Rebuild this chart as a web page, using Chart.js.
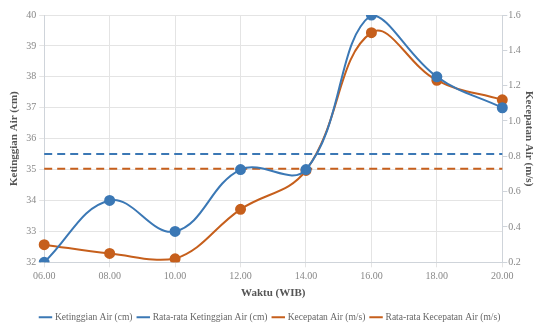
<!DOCTYPE html>
<html lang="id">
<head>
  <meta charset="UTF-8">
  <title>Ketinggian dan Kecepatan Air</title>
  <script src="https://cdn.jsdelivr.net/npm/chart.js"></script>
  <style>
    html, body { margin: 0; padding: 0; background: #fff; }
    #wrap { width: 535px; height: 324px; position: relative; }
  </style>
</head>
<body>
  <div id="wrap"><canvas id="chart"></canvas></div>

  <script>
    // Jam pengukuran
    var waktu = ['06.00', '08.00', '10.00', '12.00', '14.00', '16.00', '18.00', '20.00'];
    // Ketinggian air (cm), sumbu kiri
    var ketinggian = [32, 34, 33, 35, 35, 40, 38, 37];
    // Kecepatan air (m/s), sumbu kanan
    var kecepatan = [0.30, 0.25, 0.22, 0.50, 0.72, 1.50, 1.23, 1.12];
    // Nilai rata-rata masing-masing
    var rataKetinggian = 35.5;
    var rataKecepatan = 0.73;

    var biru = '#3b78b5';
    var oranye = '#c65f1c';
    var serif = "'Liberation Serif', 'DejaVu Serif', serif";

    new Chart(document.getElementById('chart'), {
      type: 'line',
      data: {
        labels: waktu,
        datasets: [
          {
            label: 'Ketinggian Air (cm)',
            data: ketinggian,
            yAxisID: 'y',
            borderColor: biru,
            backgroundColor: biru,
            borderWidth: 2,
            pointRadius: 4.5,
            pointHoverRadius: 4.5,
            tension: 0.4
          },
          {
            label: 'Rata-rata Ketinggian Air (cm)',
            data: waktu.map(function () { return rataKetinggian; }),
            yAxisID: 'y',
            borderColor: biru,
            backgroundColor: biru,
            borderWidth: 2,
            borderDash: [8, 5],
            pointRadius: 0
          },
          {
            label: 'Kecepatan Air (m/s)',
            data: kecepatan,
            yAxisID: 'y1',
            borderColor: oranye,
            backgroundColor: oranye,
            borderWidth: 2,
            pointRadius: 4.5,
            pointHoverRadius: 4.5,
            tension: 0.4
          },
          {
            label: 'Rata-rata Kecepatan Air (m/s)',
            data: waktu.map(function () { return rataKecepatan; }),
            yAxisID: 'y1',
            borderColor: oranye,
            backgroundColor: oranye,
            borderWidth: 2,
            borderDash: [8, 5],
            pointRadius: 0
          }
        ]
      },
      options: {
        responsive: true,
        maintainAspectRatio: false,
        animation: false,
        layout: { padding: { top: 15, right: 0, left: 6, bottom: -8 } },
        plugins: {
          tooltip: { enabled: false },
          legend: {
            position: 'bottom',
            labels: {
              usePointStyle: true,
              pointStyle: 'line',
              boxWidth: 12,
              padding: 6,
              color: '#666',
              font: { family: serif, size: 9.5 }
            }
          }
        },
        scales: {
          x: {
            offset: false,
            grid: { color: '#e4e4e4', tickLength: 5 },
            border: { color: '#cfd4da' },
            ticks: { color: '#888', font: { family: serif, size: 10 }, maxRotation: 0 },
            title: {
              display: true,
              text: 'Waktu (WIB)',
              color: '#555',
              font: { family: serif, size: 11, weight: 'bold' },
              padding: { top: 1, bottom: 7 }
            }
          },
          y: {
            position: 'left',
            min: 32,
            max: 40,
            grid: { color: '#e4e4e4', tickLength: 5 },
            border: { color: '#cfd4da' },
            ticks: { stepSize: 1, color: '#888', font: { family: serif, size: 10 }, padding: 3 },
            title: {
              display: true,
              text: 'Ketinggian Air (cm)',
              color: '#555',
              font: { family: serif, size: 11, weight: 'bold' },
              padding: 2
            }
          },
          y1: {
            position: 'right',
            min: 0.2,
            max: 1.6,
            grid: { drawOnChartArea: false, color: '#cfd4da', tickLength: 5 },
            border: { color: '#cfd4da' },
            ticks: {
              stepSize: 0.2,
              color: '#888',
              font: { family: serif, size: 10 },
              padding: 1,
              callback: function (v) { return v.toFixed(1); }
            },
            title: {
              display: true,
              text: 'Kecepatan Air (m/s)',
              color: '#555',
              font: { family: serif, size: 11, weight: 'bold' },
              padding: 0
            }
          }
        }
      }
    });
  </script>
</body>
</html>
